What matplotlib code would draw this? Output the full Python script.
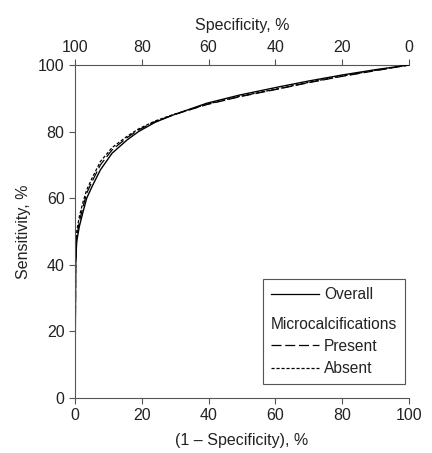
import matplotlib
matplotlib.use('Agg')
from matplotlib import pyplot as plt
from matplotlib.lines import Line2D
from matplotlib.offsetbox import DrawingArea

plt.rcParams['font.family'] = ['Liberation Sans', 'DejaVu Sans']
plt.rcParams['font.size'] = 11.5

# 1 - specificity (%) and sensitivity (%)
fpr = [0, 0.2, 0.5, 1.3, 2.3, 3.5, 5.1, 7.6, 11.1, 15.6, 19, 24, 29.4, 39.4, 49.4, 61.4, 70, 80, 90, 100]
overall = [0, 40, 47, 51.5, 55.5, 60, 63.5, 68.5, 73.5, 77.5, 80, 82.8, 85, 88.5, 91, 93.5, 95.2, 97, 98.6, 100]
present = [0, 40, 48, 53, 57, 61.5, 65, 70, 74.5, 78.2, 80.5, 83, 85, 88.1, 90.5, 92.9, 94.7, 96.6, 98.3, 100]
absent = [0, 42, 50, 54.5, 58.5, 62.5, 66, 71, 75.2, 78.6, 80.8, 83.2, 85.1, 88.2, 90.6, 93, 94.8, 96.7, 98.4, 100]

ticks = [0, 20, 40, 60, 80, 100]
text_c = '#222222'
axis_c = '#555555'
long_dash = (0, (8, 3))
short_dash = (0, (2.5, 1.5))

fig = plt.figure(figsize=(4.32, 4.53), dpi=100)
ax = fig.add_axes([75 / 432, 55 / 453, 334 / 432, 333 / 453])

ax.plot(fpr, overall, color='black', lw=1.0, ls='-')
ax.plot(fpr, present, color='black', lw=0.9, ls=long_dash)
ax.plot(fpr, absent, color='black', lw=0.9, ls=short_dash)

ax.set_xlim(0, 100)
ax.set_ylim(0, 100)
ax.set_xticks(ticks)
ax.set_yticks(ticks)
ax.set_xlabel('(1 – Specificity), %', color=text_c, labelpad=7)
ax.set_ylabel('Sensitivity, %', color=text_c, labelpad=5)
ax.tick_params(colors=axis_c, labelcolor=text_c, length=4, width=0.8, labelsize=11.5)
ax.spines['right'].set_visible(False)
ax.spines['top'].set_visible(False)
for s in ['left', 'bottom']:
    ax.spines[s].set_color(axis_c)
    ax.spines[s].set_linewidth(0.8)

# top axis shows specificity
sec = ax.secondary_xaxis('top', functions=(lambda x: 100 - x, lambda x: 100 - x))
sec.set_xticks([100, 80, 60, 40, 20, 0])
sec.set_xlabel('Specificity, %', color=text_c, labelpad=7)
sec.tick_params(colors=axis_c, labelcolor=text_c, length=4, width=0.8, labelsize=11.5)
sec.spines['top'].set_color(axis_c)
sec.spines['top'].set_linewidth(0.8)

handles = [
    Line2D([], [], color='black', lw=0.9, ls='-'),
    Line2D([], [], color='none'),
    Line2D([], [], color='black', lw=0.9, ls=long_dash),
    Line2D([], [], color='black', lw=0.9, ls=short_dash),
]
labels = ['Overall', 'Microcalcifications', 'Present', 'Absent']
leg = ax.legend(handles, labels, loc='lower right', bbox_to_anchor=(0.988, 0.042),
                borderaxespad=0, fancybox=False, framealpha=1, handlelength=3.1,
                handletextpad=0.3, labelspacing=0.47, borderpad=0.5, fontsize=11.2,
                edgecolor=axis_c, labelcolor=text_c)
leg.get_frame().set_linewidth(0.8)

# heading row: drop its (empty) handle so the text starts at the left edge,
# and leave a little extra room above it
col = leg._legend_handle_box.get_children()[0]
rows = col.get_children()
rows[1].get_children().pop(0)
rows.insert(1, DrawingArea(0, 0))

fig.savefig('out.png', dpi=100)
